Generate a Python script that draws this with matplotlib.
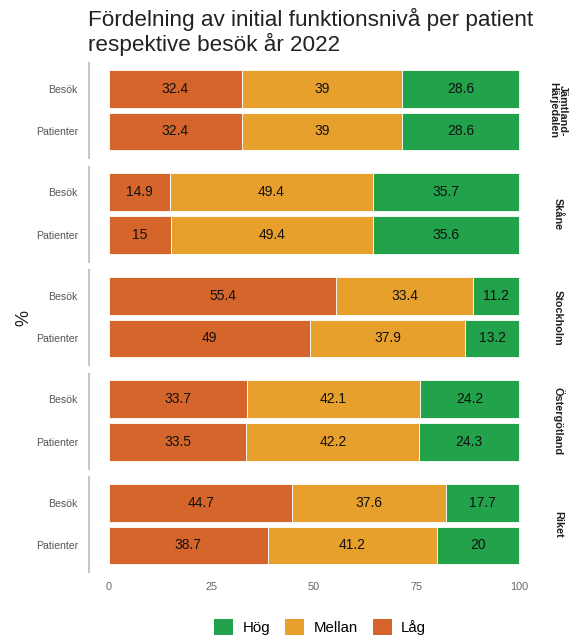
import matplotlib.pyplot as plt
from matplotlib.patches import Patch

plt.rcParams['font.family'] = ['Liberation Sans', 'DejaVu Sans']

regions = ['Jämtland-\nHärjedalen', 'Skåne', 'Stockholm', 'Östergötland', 'Riket']
groups = ['Patienter', 'Besök']
# values per region: [Patienter, Besök]
lag = [[32.4, 32.4], [15, 14.9], [49, 55.4], [33.5, 33.7], [38.7, 44.7]]
mellan = [[39, 39], [49.4, 49.4], [37.9, 33.4], [42.2, 42.1], [41.2, 37.6]]
hog = [[28.6, 28.6], [35.6, 35.7], [13.2, 11.2], [24.3, 24.2], [20, 17.7]]
levels = ['Låg', 'Mellan', 'Hög']
colors = {'Låg': '#D5652A', 'Mellan': '#E8A02C', 'Hög': '#22A24B'}
xticks = [0, 25, 50, 75, 100]

W, H = 575, 639
fig = plt.figure(figsize=(W / 100, H / 100), dpi=100)

fig.text(88 / W, 1 - 8 / H, 'Fördelning av initial funktionsnivå per patient\nrespektive besök år 2022',
         ha='left', va='top', fontsize=16.2, color='#222222', linespacing=1.07)
fig.text(24 / W, 1 - 318 / H, '%', ha='center', va='center', fontsize=13, rotation=90, color='#222222')

left, right = 89, 540
panel_h = 95
for i, reg in enumerate(regions):
    top = 63 + i * 103.5
    ax = fig.add_axes([left / W, 1 - (top + panel_h) / H, (right - left) / W, panel_h / H])
    data = {'Låg': lag[i], 'Mellan': mellan[i], 'Hög': hog[i]}
    base = [0, 0]
    for lv in levels:
        vals = data[lv]
        ax.barh(range(len(groups)), vals, left=base, height=0.88, color=colors[lv],
                edgecolor='white', linewidth=0.6)
        for j, v in enumerate(vals):
            ax.text(base[j] + v / 2, j, f'{v:g}', ha='center', va='center', fontsize=10, color='#111111')
        base = [b + v for b, v in zip(base, vals)]
    ax.set_xlim(-20 / 4.1, 100 + 21 / 4.1)
    ax.set_ylim(-0.62, 1.6)
    ax.set_yticks(range(len(groups)))
    ax.set_yticklabels(groups, fontsize=7.6, color='#555555')
    ax.tick_params(axis='y', length=0, pad=8)
    for s in ['top', 'right', 'bottom']:
        ax.spines[s].set_visible(False)
    ax.spines['left'].set_color('#c8c8c8')
    ax.spines['left'].set_linewidth(1.5)
    if i == len(regions) - 1:
        ax.set_xticks(xticks)
        ax.set_xticklabels([str(t) for t in xticks], fontsize=7.8, color='#666666')
        ax.tick_params(axis='x', length=0, pad=7)
    else:
        ax.set_xticks([])
    ax.text(558 / W, 1 - (top + panel_h / 2) / H, reg, transform=fig.transFigure,
            rotation=-90, ha='center', va='center', fontsize=7.8, fontweight='bold',
            color='#222222', linespacing=0.85)

handles = [Patch(facecolor=colors[lv], edgecolor='none', label=lv) for lv in ['Hög', 'Mellan', 'Låg']]
fig.legend(handles=handles, loc='center', bbox_to_anchor=(320 / W, 1 - 627 / H), ncol=3,
           frameon=False, fontsize=10.8, handlelength=1.3, handleheight=1.3, columnspacing=1.0,
           handletextpad=0.6)

fig.savefig('out.png', dpi=100)
